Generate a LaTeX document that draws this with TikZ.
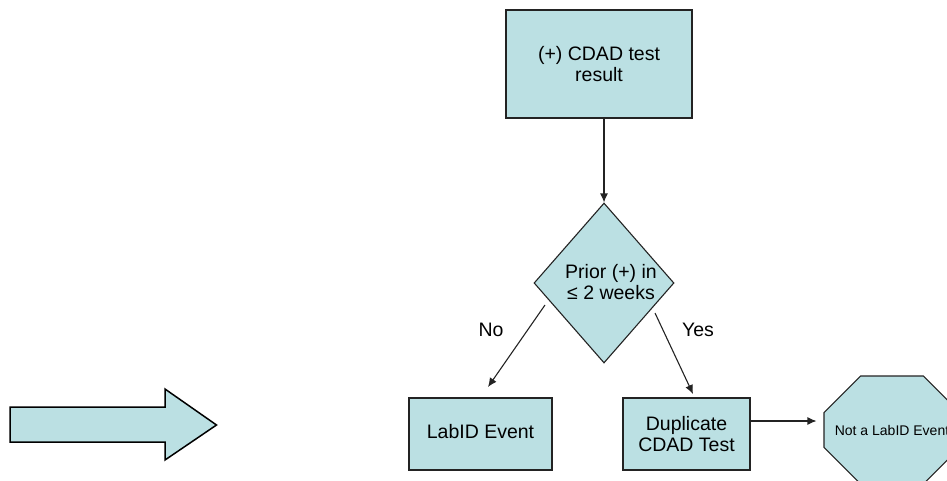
\documentclass[tikz,border=0pt]{standalone}
\usepackage{fontspec}
\setmainfont{Liberation Sans}
\usetikzlibrary{shapes.geometric,shapes.misc,arrows.meta}
\definecolor{boxfill}{RGB}{187,224,227}
\definecolor{edge}{RGB}{35,35,35}

\begin{document}
\begin{tikzpicture}[x=1pt, y=1pt, >={Latex[length=9pt,width=8pt]},
  font=\fontsize{19.5}{21.5}\selectfont,
  box/.style={draw=edge, line width=1.4pt, fill=boxfill, inner sep=0pt, align=center},
  decision/.style={diamond, draw=edge, line width=1.1pt, fill=boxfill, inner sep=0pt,
    minimum width=140pt, minimum height=160pt},
  stopsign/.style={chamfered rectangle, chamfered rectangle xsep=36pt,
    chamfered rectangle ysep=31.5pt, draw=edge, line width=1.1pt, fill=boxfill,
    inner sep=0pt, minimum width=136pt, minimum height=108pt,
    font=\fontsize{14}{16}\selectfont},
  flow/.style={->, line width=1.1pt, draw=edge}]
  \useasboundingbox (0,0) rectangle (947,480);

  % big arrow on the left
  \draw[draw=black, line width=1.5pt, fill=boxfill, line join=miter]
    (10,73) -- (165,73) -- (165,91) -- (216.5,55) -- (165,20) -- (165,38) -- (10,38) -- cycle;

  % boxes
  \node[box, minimum width=186pt, minimum height=108pt] (result) at (599,416)
    {(+) CDAD test\\result};
  \node[decision] (prior) at (604,197) {};
  \node[align=center] (priortxt) at (611,198) {Prior (+) in\\≤ 2 weeks};
  \node[box, minimum width=143pt, minimum height=72pt] (labid) at (480.5,46)
    {\raisebox{6pt}{LabID Event}};
  \node[box, minimum width=127pt, minimum height=72pt] (dup) at (686.5,46)
    {Duplicate\\CDAD Test};
  \node[stopsign] (stop) at (892,50) {Not a LabID Event};

  % connectors
  \coordinate (nofrom) at (545,175);
  \coordinate (noto) at (488,93);
  \coordinate (yesfrom) at (655,167);
  \coordinate (yesto) at (693,86);
  \coordinate (dupout) at ([yshift=13pt]dup.east);
  \draw[flow] (prior.north |- result.south) -- (prior.north);
  \draw[flow] (nofrom) -- (noto);
  \draw[flow] (yesfrom) -- (yesto);
  \draw[flow, shorten >=7pt] (dupout) -- (dupout -| stop.west);

  % labels
  \node (nolab) at (491,150) {No};
  \node (yeslab) at (698,150) {Yes};
\end{tikzpicture}
\end{document}
